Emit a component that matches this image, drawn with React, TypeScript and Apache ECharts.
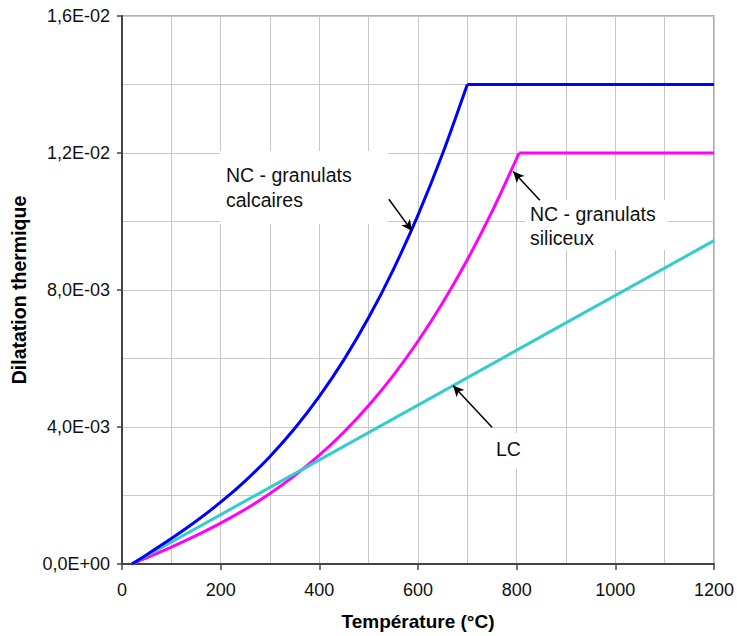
import React, { useEffect, useRef } from "react";
import * as echarts from "echarts";

// Temperatures (°C) and thermal strain values
const calcTemps = [20, 50, 100, 150, 200, 250, 300, 350, 400, 450, 500, 550, 600, 650, 700];
const calcValues = [0, 0.000273, 0.000743, 0.001248, 0.001804, 0.002429, 0.003141, 0.003956, 0.004892, 0.005966, 0.007195, 0.008597, 0.010188, 0.011986, 0.014];
const calcPlateauTemps = [700, 1200];
const calcPlateauValues = [0.014, 0.014];

const silTemps = [20, 50, 100, 150, 200, 250, 300, 350, 400, 450, 500, 550, 600, 650, 700, 750, 805];
const silValues = [0, 0.000182, 0.000494, 0.000827, 0.001192, 0.001599, 0.002058, 0.00258, 0.003176, 0.003856, 0.00463, 0.005509, 0.006504, 0.007625, 0.008882, 0.010286, 0.012];
const silPlateauTemps = [805, 1200];
const silPlateauValues = [0.012, 0.012];

const lcTemps = [20, 1200];
const lcValues = [0, 0.00944];

const xTicks = { min: 0, max: 1200, interval: 200 };
const yTicks = { min: 0, max: 0.016, interval: 0.004 };

// Arrow annotations: [fromT, fromY, toT, toY]
const arrowCalc = [541, 0.01065, 588, 0.00972];
const arrowSil = [847, 0.01062, 793, 0.01146];
const arrowLC = [750, 0.00399, 671, 0.00521];

const labelCalc = "NC - granulats\ncalcaires";
const labelSil = "NC - granulats\nsiliceux";
const labelLC = "LC";

const FONT = "'Liberation Sans', Arial, Helvetica, sans-serif";
const BLUE = "#0000ff";
const MAGENTA = "#ff00ff";
const CYAN = "#33cccc";

function sci(v: number): string {
  if (v === 0) return "0,0E+00";
  const [m, e] = v.toExponential(1).split("e");
  const n = parseInt(e, 10);
  return m.replace(".", ",") + "E" + (n < 0 ? "-" : "+") + String(Math.abs(n)).padStart(2, "0");
}

function pairs(xs: number[], ys: number[]) {
  return xs.map((x, i) => [x, ys[i]]);
}

function arrow(a: number[]) {
  return [{ coord: [a[0], a[1]] }, { coord: [a[2], a[3]] }];
}

function lineSeries(name: string, data: number[][], color: string, z: number, smooth: boolean) {
  return {
    type: "line",
    name,
    data,
    showSymbol: false,
    symbol: "none",
    smooth: smooth ? 0.3 : false,
    lineStyle: { color, width: 3 },
    z,
  };
}

export default function App() {
  const ref = useRef<HTMLDivElement>(null);
  useEffect(() => {
    if (!ref.current) return;
    const chart = echarts.init(ref.current, undefined, { renderer: "svg" });
    const gridStyle = { color: "#c8c8c8", width: 1 };
    chart.setOption({
      animation: false,
      backgroundColor: "#ffffff",
      grid: {
        left: 122,
        right: 23,
        top: 16,
        bottom: 70,
        show: true,
        borderColor: "#999999",
        borderWidth: 1.5,
        backgroundColor: "transparent",
      },
      xAxis: {
        type: "value",
        min: xTicks.min,
        max: xTicks.max,
        interval: xTicks.interval,
        name: "Température (°C)",
        nameLocation: "middle",
        nameGap: 48,
        nameTextStyle: { fontFamily: FONT, fontSize: 19, fontWeight: "bold", color: "#000" },
        axisLine: { show: true, lineStyle: { color: "#444", width: 2 } },
        axisTick: { show: true, length: 6, lineStyle: { color: "#444", width: 1.5 } },
        axisLabel: { fontFamily: FONT, fontSize: 18, color: "#111", margin: 17, formatter: (v: number) => String(v) },
        splitLine: { show: true, lineStyle: gridStyle },
        minorTick: { show: false, splitNumber: 2 },
        minorSplitLine: { show: true, lineStyle: gridStyle },
      },
      yAxis: {
        type: "value",
        min: yTicks.min,
        max: yTicks.max,
        interval: yTicks.interval,
        name: "Dilatation thermique",
        nameLocation: "middle",
        nameGap: 93,
        nameTextStyle: { fontFamily: FONT, fontSize: 19.5, fontWeight: "bold", color: "#000" },
        axisLine: { show: true, lineStyle: { color: "#444", width: 2 } },
        axisTick: { show: true, length: 5, lineStyle: { color: "#444", width: 1.5 } },
        axisLabel: { fontFamily: FONT, fontSize: 18, color: "#111", margin: 12, formatter: sci },
        splitLine: { show: true, lineStyle: gridStyle },
        minorTick: { show: false, splitNumber: 2 },
        minorSplitLine: { show: true, lineStyle: gridStyle },
      },
      graphic: [
        { type: "rect", z: 1, shape: { x: 220, y: 151, width: 168, height: 73 }, style: { fill: "#fff" } },
        {
          type: "text", z: 2, x: 226, y: 187.5,
          style: { text: labelCalc, font: `19.5px ${FONT}`, fill: "#111", lineHeight: 25, align: "left", verticalAlign: "middle" },
        },
        { type: "rect", z: 1, shape: { x: 525, y: 200, width: 143, height: 50 }, style: { fill: "#fff" } },
        {
          type: "text", z: 2, x: 530, y: 226,
          style: { text: labelSil, font: `19.5px ${FONT}`, fill: "#111", lineHeight: 24, align: "left", verticalAlign: "middle" },
        },
        { type: "rect", z: 1, shape: { x: 489, y: 433, width: 40, height: 36 }, style: { fill: "#fff" } },
        {
          type: "text", z: 2, x: 496, y: 449,
          style: { text: labelLC, font: `19.5px ${FONT}`, fill: "#111", align: "left", verticalAlign: "middle" },
        },
      ],
      series: [
        lineSeries("NC - granulats siliceux", pairs(silTemps, silValues), MAGENTA, 3, true),
        lineSeries("NC - granulats siliceux (palier)", pairs(silPlateauTemps, silPlateauValues), MAGENTA, 3, false),
        lineSeries("LC", pairs(lcTemps, lcValues), CYAN, 4, false),
        lineSeries("NC - granulats calcaires (palier)", pairs(calcPlateauTemps, calcPlateauValues), BLUE, 5, false),
        {
          ...lineSeries("NC - granulats calcaires", pairs(calcTemps, calcValues), BLUE, 5, true),
          markLine: {
            silent: true,
            symbol: ["none", "arrow"],
            symbolSize: [8, 11],
            label: { show: false },
            lineStyle: { color: "#000", width: 1.5, type: "solid" },
            z: 10,
            data: [arrow(arrowCalc), arrow(arrowSil), arrow(arrowLC)],
          },
        },
      ],
    });
    return () => chart.dispose();
  }, []);
  return (
    <div
      ref={ref}
      style={{ position: "fixed", left: 0, top: 0, width: 737, height: 636, background: "#fff" }}
    />
  );
}
